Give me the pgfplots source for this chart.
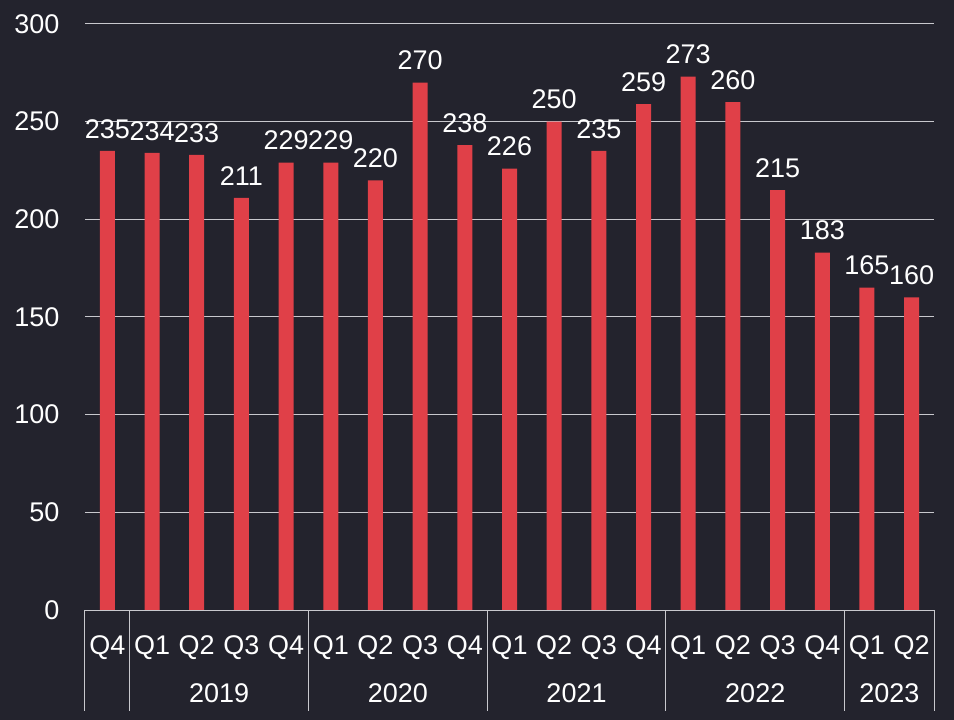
\documentclass[border=0pt]{standalone}
\usepackage{pgfplots}
\pgfplotsset{compat=1.18}
\usepackage{fontspec}
\setmainfont{Liberation Sans}
\definecolor{bg}{RGB}{35,35,45}
\definecolor{barc}{RGB}{224,64,72}
\definecolor{gridc}{RGB}{200,200,205}
\begin{document}
\begin{tikzpicture}[font=\fontsize{27bp}{31bp}\selectfont]
\fill[bg] (-85bp,-110bp) rectangle (869bp,610bp);
\useasboundingbox (-85bp,-110bp) rectangle (869bp,610bp);
\begin{axis}[at={(0,0)}, anchor=south west, scale only axis,
  width=849bp, height=586bp,
  xmin=-0.5, xmax=18.5, ymin=0, ymax=300, ytick={0,50,...,300},
  xtick={0,...,18},
  xticklabels={Q4,Q1,Q2,Q3,Q4,Q1,Q2,Q3,Q4,Q1,Q2,Q3,Q4,Q1,Q2,Q3,Q4,Q1,Q2},
  major tick length=0, axis line style={draw=none},
  ymajorgrids, grid style={gridc, line width=1bp},
  /pgf/number format/assume math mode=true,
  ticklabel style={text=white, font=\fontsize{27bp}{31bp}\selectfont},
  yticklabel style={xshift=-22bp},
  xticklabel style={yshift=-22bp},
  ybar, bar width=15bp, clip=false,
  nodes near coords,
  every node near coord/.append style={text=white, yshift=9bp, font=\fontsize{27bp}{31bp}\selectfont},
]
\addplot[fill=barc, draw=none] coordinates {
(0,235) (1,234) (2,233) (3,211) (4,229) (5,229) (6,220) (7,270) (8,238)
(9,226) (10,250) (11,235) (12,259) (13,273) (14,260) (15,215) (16,183)
(17,165) (18,160)};
\draw[gridc, line width=1bp] (axis cs:-0.5,0) -- (axis cs:18.5,0);
\draw[gridc, line width=1bp] (axis cs:-0.5,0) -- ++(0pt,-101bp);
\draw[gridc, line width=1bp] (axis cs:0.5,0) -- ++(0pt,-101bp);
\draw[gridc, line width=1bp] (axis cs:4.5,0) -- ++(0pt,-101bp);
\draw[gridc, line width=1bp] (axis cs:8.5,0) -- ++(0pt,-101bp);
\draw[gridc, line width=1bp] (axis cs:12.5,0) -- ++(0pt,-101bp);
\draw[gridc, line width=1bp] (axis cs:16.5,0) -- ++(0pt,-101bp);
\draw[gridc, line width=1bp] (axis cs:18.5,0) -- ++(0pt,-101bp);
\node[text=white] at ([yshift=-83bp]axis cs:2.5,0) {2019};
\node[text=white] at ([yshift=-83bp]axis cs:6.5,0) {2020};
\node[text=white] at ([yshift=-83bp]axis cs:10.5,0) {2021};
\node[text=white] at ([yshift=-83bp]axis cs:14.5,0) {2022};
\node[text=white] at ([yshift=-83bp]axis cs:17.5,0) {2023};
\end{axis}
\end{tikzpicture}
\end{document}
